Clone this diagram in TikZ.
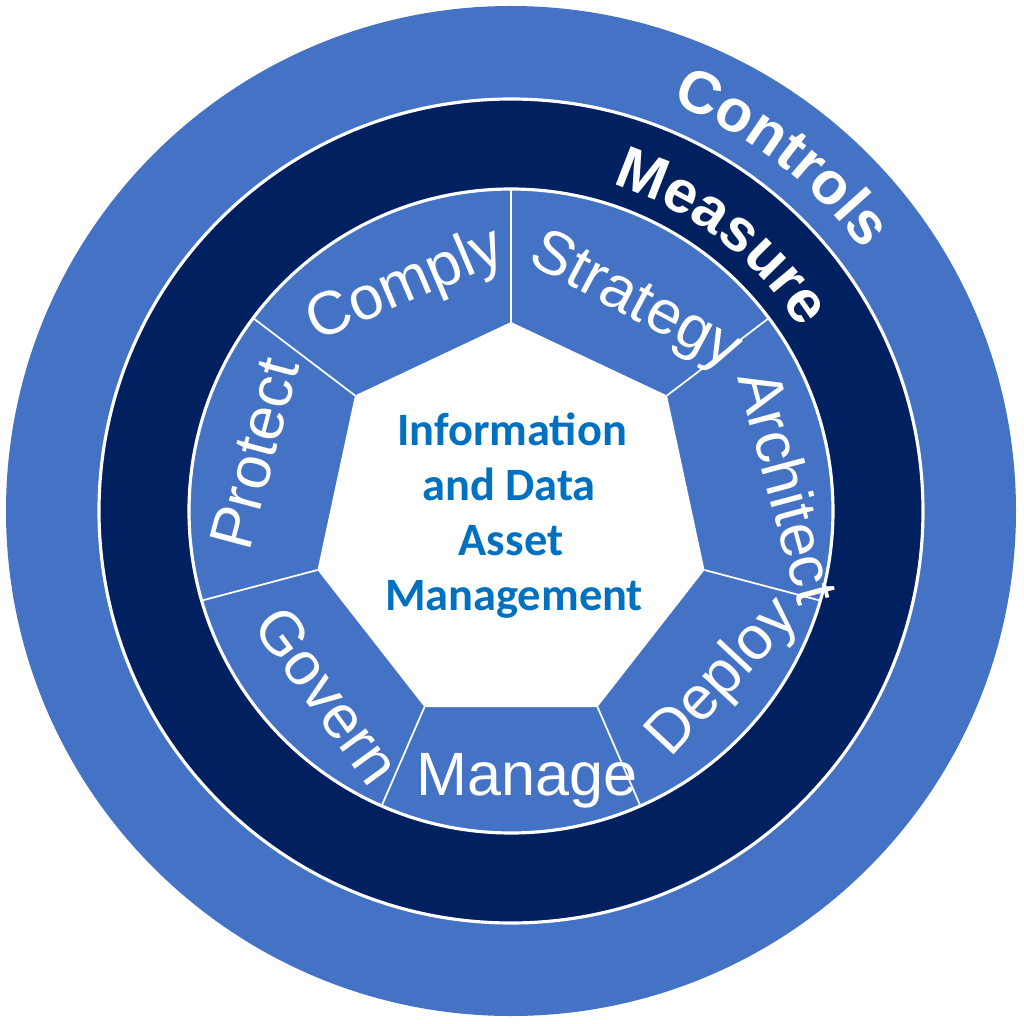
\documentclass[tikz,border=0pt]{standalone}
\usepackage{fontspec}
\setmainfont{Liberation Sans}
\newfontfamily\calibfont{Carlito}
\usetikzlibrary{decorations.text}
\definecolor{ringblue}{HTML}{4472C4}
\definecolor{navyring}{HTML}{002060}
\definecolor{txtblue}{HTML}{0070C0}
\newcommand\ringfont{\bfseries\fontsize{17}{20}\selectfont}
\begin{document}
\begin{tikzpicture}[x=0.01cm,y=0.01cm,
  seglabel/.style={text=white, font=\fontsize{17.4}{20}\selectfont, inner sep=0pt, anchor=base},
  centreline/.style={text=txtblue, font=\calibfont\bfseries\fontsize{13.2}{15.7}\selectfont, inner sep=0pt, anchor=base},
  divider/.style={white, line width=0.5pt},
  ringtext/.style={decorate, decoration={text along path, text align=center, text color=white}},
]
\useasboundingbox (-511,-513) rectangle (513,511);
% rings
\fill[ringblue] (0,0) circle (505);
\filldraw[fill=navyring, draw=white, line width=0.9pt] (0,0) circle (412);
\filldraw[fill=ringblue, draw=white, line width=0.9pt] (0,0) circle (322);
% heptagon vertices
\coordinate (h1) at (0,189);
\coordinate (h2) at (156,115.5);
\coordinate (h3) at (193.5,-59);
\coordinate (h4) at (86.5,-196);
\coordinate (h5) at (-86.5,-196);
\coordinate (h6) at (-193.5,-59);
\coordinate (h7) at (-156,115.5);
% outer ends of dividers
\coordinate (o1) at (0,322);
\coordinate (o2) at (258,193);
\coordinate (o3) at (309,-89.5);
\coordinate (o4) at (129,-294);
\coordinate (o5) at (-129,-294);
\coordinate (o6) at (-309,-89.5);
\coordinate (o7) at (-258,193);
\fill[white] (h1) -- (h2) -- (h3) -- (h4) -- (h5) -- (h6) -- (h7) -- cycle;
\foreach \i in {1,...,7} { \draw[divider] (h\i) -- (o\i); }
% ring texts
\path[ringtext, decoration={text={|\ringfont|Controls}}]
  (75:438) arc[start angle=75, end angle=30, radius=438];
\path[ringtext, decoration={text={|\ringfont|Measure}}]
  (80:342) arc[start angle=80, end angle=25, radius=342];
% segment labels
\node[seglabel, rotate=23] (comply) at (-99,210) {Comply};
\node[seglabel, rotate=-28] (strategy) at (116.5,195) {Strategy};
\node[seglabel, rotate=-75] (architect) at (257,19) {Architect};
\node[seglabel, rotate=47] (deploy) at (224,-178) {Deploy};
\node[seglabel] (manage) at (16,-284) {Manage};
\node[seglabel, rotate=-54] (govern) at (-200.6,-196.6) {Govern};
\node[seglabel, rotate=75] (protect) at (-236.6,52) {Protect};
% centre text
\node[centreline] (c1) at (1,66) {Information};
\node[centreline] (c2) at (-2,11) {and Data};
\node[centreline] (c3) at (0,-44) {Asset};
\node[centreline] (c4) at (3,-99) {Management};
\end{tikzpicture}
\end{document}
